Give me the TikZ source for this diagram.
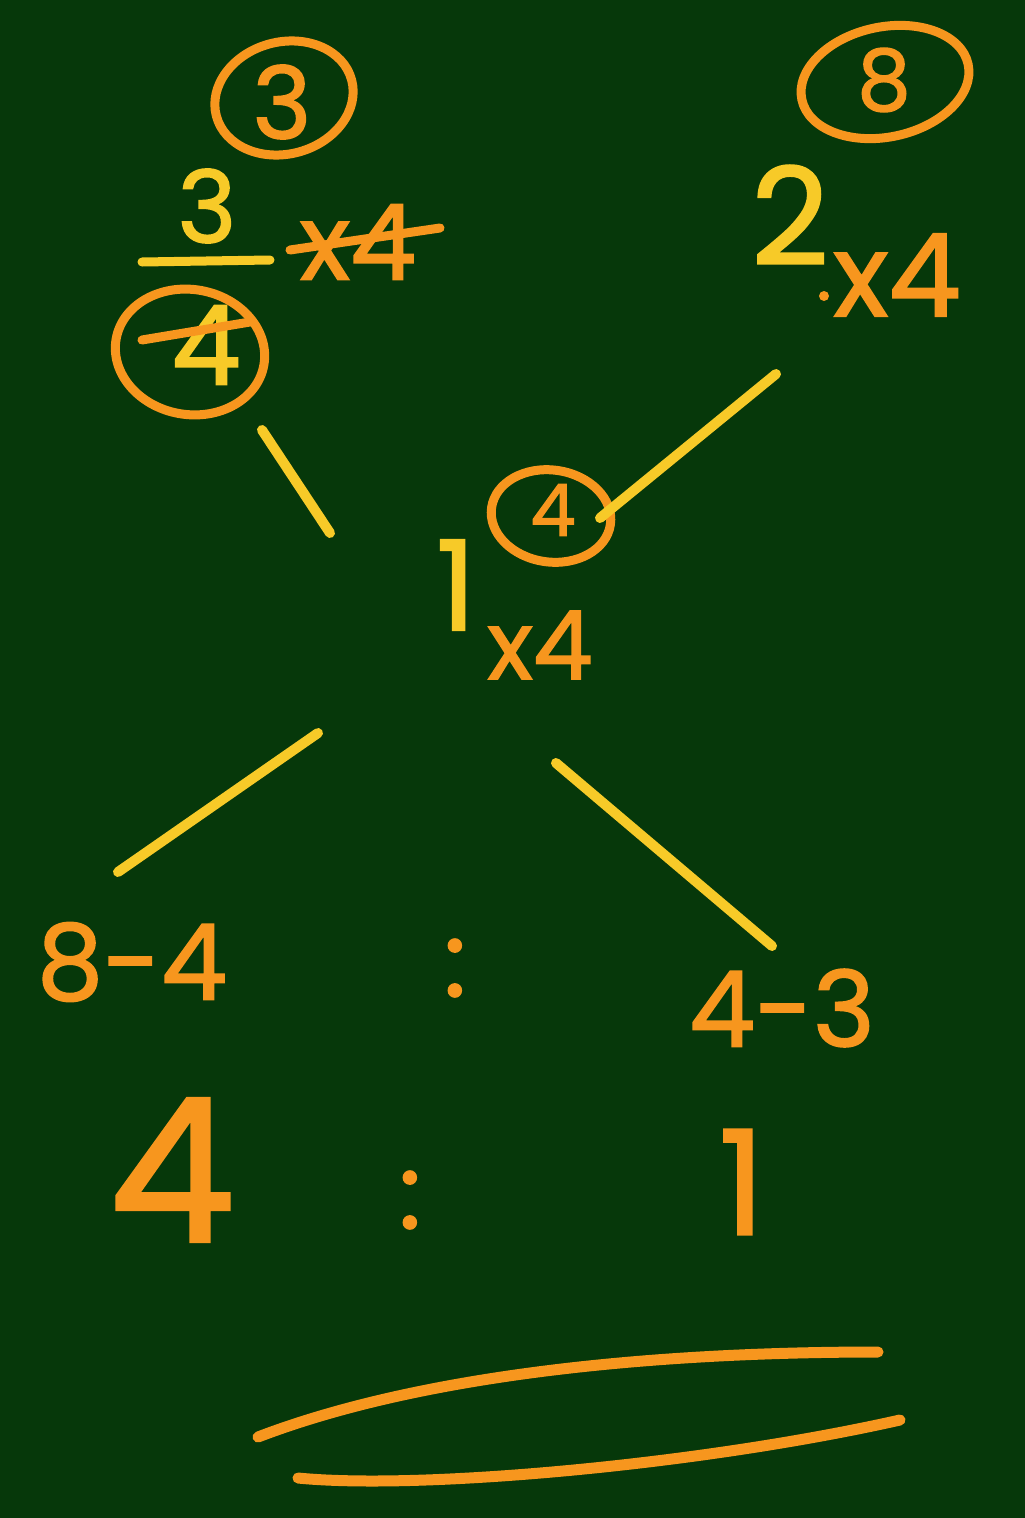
\documentclass[tikz,border=0pt]{standalone}
\usepackage{fontspec}
\setmainfont{Poppins}
\newfontfamily\chalk{Poppins}[FakeBold=1.6]
\usetikzlibrary{shapes.geometric}
\definecolor{board}{RGB}{6,56,10}
\definecolor{chalkor}{RGB}{247,150,30}
\definecolor{chalkye}{RGB}{247,202,40}
\tikzset{
  ot/.style={text=chalkor, inner sep=0pt, font=\chalk\fontsize{#1}{#1}\selectfont},
  yt/.style={text=chalkye, inner sep=0pt, font=\chalk\fontsize{#1}{#1}\selectfont},
  ring/.style={draw=chalkor, line width=9pt, ellipse, inner sep=0pt},
  leg/.style={draw=chalkye, line width=10pt, line cap=round},
  uline/.style={draw=chalkor, line width=11pt, line cap=round}
}
\begin{document}
\begin{tikzpicture}[x=1pt,y=-1pt]
\fill[board] (0,0) rectangle (1025,1518);
\useasboundingbox (0,0) rectangle (1025,1518);
% top left
\node[ot=100] (t3) at (282,102) {3};
\node[ring, minimum width=140pt, minimum height=112pt, rotate=15] (c3) at (284,98) {};
\node[yt=100] (f3) at (207,206) {3};
\draw[leg, line width=9pt] (142,262) -- (270,260);
\node[yt=110] (f4) at (206,345) {4};
\draw[draw=chalkor, line width=9pt, line cap=round] (142,340) -- (250,322);
\node[ring, minimum width=150pt, minimum height=125pt, rotate=-10] (c4) at (190,352) {};
\node[ot=105] (lx4) at (358,242) {x4};
\draw[draw=chalkor, line width=9pt, line cap=round] (290,250) -- (440,228);
% top right
\node[ot=85] (t8) at (884,80) {8};
\node[ring, minimum width=170pt, minimum height=110pt, rotate=12] (c8) at (885,82) {};
\node[yt=135] (two) at (790,215) {2};
\fill[chalkor] (824,296) circle (5pt);
\node[ot=115] (rx4) at (897,275) {x4};
% center
\node[yt=125] (one) at (456,585) {1};
\node[ot=95] (cx4) at (540,645) {x4};
\node[ot=72] (ct4) at (553,510) {4};
\node[ring, minimum width=120pt, minimum height=92pt, rotate=-8] (cc4) at (551,516) {};
% legs
\coordinate (a1) at (262,430); \coordinate (a2) at (330,533);
\coordinate (b1) at (776,374); \coordinate (b2) at (600,518);
\coordinate (c1) at (318,733); \coordinate (c2) at (118,872);
\coordinate (d1) at (556,763); \coordinate (d2) at (772,946);
\draw[leg] (a1) -- (a2);
\draw[leg] (b1) -- (b2);
\draw[leg] (c1) -- (c2);
\draw[leg] (d1) -- (d2);
% differences
\node[ot=105] (d84) at (132,962) {8-4};
\node[ot=105] (col1) at (455,968) {:};
\node[ot=105] (d43) at (782,1008) {4-3};
% ratio
\node[ot=200] (r4) at (172,1170) {4};
\node[ot=105] (col2) at (410,1200) {:};
\node[ot=145] (r1) at (742,1182) {1};
% underlines
\coordinate (u1) at (258,1437); \coordinate (u2) at (878,1352);
\coordinate (v1) at (298,1478); \coordinate (v2) at (900,1420);
\draw[uline] (u1) .. controls (420,1375) and (650,1352) .. (u2);
\draw[uline] (v1) .. controls (420,1490) and (700,1465) .. (v2);
\end{tikzpicture}
\end{document}
